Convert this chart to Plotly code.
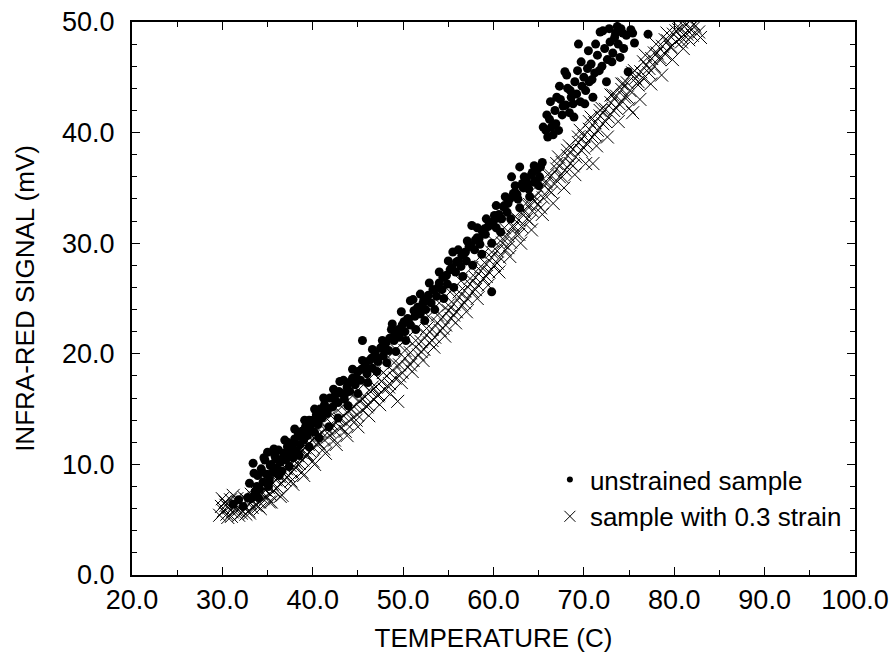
import plotly.graph_objects as go

# ---- data ----
unstrained_temp = [
    31.2, 31.8, 32.3, 32.8, 33.0, 33.2, 33.4, 33.6, 33.9, 34.1, 34.3, 34.5, 34.7, 34.9, 35.0, 35.2,
    35.4, 35.6, 35.8, 36.0, 36.2, 36.4, 36.6, 36.8, 37.0, 37.2, 37.4, 37.6, 37.8, 38.0, 38.2, 38.4,
    38.6, 38.8, 39.0, 39.2, 39.4, 39.6, 39.8, 40.0, 40.2, 40.4, 40.6, 40.8, 41.0, 41.3, 41.6, 41.9,
    42.2, 42.5, 42.8, 43.0, 43.2, 43.5, 43.8, 44.1, 44.4, 44.7, 45.0, 45.3, 45.5, 45.7, 46.0, 46.3,
    46.6, 46.9, 47.2, 47.5, 47.8, 48.1, 48.4, 48.8, 49.0, 49.3, 49.6, 49.9, 50.2, 50.5, 50.8, 51.1,
    51.3, 51.6, 51.9, 52.2, 52.5, 52.8, 53.1, 53.4, 53.7, 54.0, 54.3, 54.6, 54.9, 55.2, 55.5, 55.8,
    56.1, 56.4, 56.7, 57.0, 57.3, 57.6, 57.9, 58.2, 58.5, 58.8, 59.1, 59.4, 59.8, 60.0, 60.3, 60.6,
    60.9, 61.2, 61.5, 61.8, 62.0, 62.4, 62.7, 62.9, 63.3, 63.6, 63.9, 64.2, 64.5, 64.8, 65.1, 65.4,
    65.5, 65.8, 66.0, 66.2, 66.4, 66.6, 66.8, 67.0, 67.2, 67.4, 67.6, 67.9, 68.0, 68.2, 68.4, 68.6,
    68.8, 69.0, 69.2, 69.6, 69.4, 69.8, 70.0, 70.2, 70.4, 70.6, 70.8, 71.0, 71.2, 71.5, 71.8, 72.0,
    72.3, 72.6, 72.9, 73.2, 73.5, 73.8, 74.1, 74.4, 74.7, 74.9, 75.2, 75.4, 75.6, 77.1,
    33.5, 34.0, 34.6, 35.1, 35.7, 36.3, 36.9, 37.4, 38.0, 38.5, 39.1, 39.6, 40.2, 40.7, 41.2, 41.8,
    42.3, 42.8, 43.4, 43.9, 44.4, 45.0, 45.5, 46.1, 46.6, 47.1, 47.7, 48.2, 48.7, 49.2, 49.8, 50.3,
    50.8, 51.4, 51.9, 52.4, 52.9, 53.5, 54.0, 54.5, 55.0, 55.6, 56.1, 56.6, 57.1, 57.7, 58.2, 58.7,
    59.2, 59.8, 60.3, 60.8, 61.3, 61.9, 62.4, 62.9, 63.4, 64.0, 64.5, 65.0,
    65.9, 66.3, 66.9, 67.3, 67.7, 68.1, 68.5, 68.9, 69.3, 69.7, 70.1, 70.5, 70.9, 71.3, 71.7, 72.1,
    72.5, 72.8, 73.1, 73.4, 73.7, 74.0, 74.3,
    33.8, 34.4, 35.3, 35.9, 36.7, 37.2, 37.9, 38.6, 39.3, 40.0, 40.5, 41.1, 41.7, 42.4, 42.9, 43.6,
    44.2, 44.8, 45.4, 45.9, 46.5, 47.0, 47.6, 48.0, 48.5, 49.1, 49.5, 50.1, 50.6, 51.2, 51.7, 52.3,
    52.7, 53.3, 53.9, 54.4, 54.8, 55.4, 55.9, 56.5, 56.9, 57.5, 58.0, 58.4, 59.0, 59.5, 60.1, 60.5,
    61.1, 61.6, 62.2, 62.6, 63.2, 63.7, 64.3, 64.7, 65.2,
]
unstrained_signal = [
    6.4, 6.8, 6.2, 7.0, 8.3, 6.9, 10.1, 7.5, 9.0, 7.8, 9.6, 8.4, 10.4, 9.1, 11.1, 8.6,
    10.0, 9.3, 10.8, 9.7, 11.3, 10.2, 9.4, 11.0, 10.4, 12.0, 10.9, 11.6, 10.6, 12.3, 11.2, 12.8,
    11.8, 13.0, 12.2, 13.4, 12.6, 14.0, 13.1, 13.7, 12.9, 14.5, 13.6, 15.0, 14.2, 15.4, 14.6, 16.0,
    15.2, 16.3, 15.6, 17.5, 16.4, 15.9, 17.0, 16.6, 17.8, 17.2, 18.4, 17.6, 21.2, 18.8, 18.2, 19.4,
    18.7, 20.0, 19.3, 20.5, 19.8, 21.0, 20.3, 22.7, 21.2, 22.0, 21.5, 22.6, 22.0, 23.2, 22.6, 24.9,
    23.4, 24.2, 23.6, 24.6, 24.0, 25.3, 24.6, 25.8, 25.2, 26.4, 25.8, 27.0, 26.3, 27.6, 29.2, 27.4,
    28.4, 27.9, 29.0, 28.4, 29.7, 31.6, 29.4, 30.5, 29.9, 31.0, 30.8, 31.5, 25.6, 32.0, 31.4, 32.6,
    32.2, 33.4, 32.8, 34.0, 36.0, 34.6, 34.0, 36.9, 35.0, 35.8, 34.9, 36.2, 35.5, 36.6, 36.0, 37.3,
    40.5, 40.2, 39.6, 41.2, 40.5, 39.8, 42.0, 43.2, 40.2, 43.0, 41.6, 45.5, 42.5, 44.0, 41.8, 43.2,
    42.6, 44.6, 43.5, 42.8, 48.0, 44.2, 45.0, 43.8, 45.8, 44.6, 46.2, 43.2, 45.4, 47.0, 49.1, 46.0,
    47.6, 46.6, 48.2, 47.2, 49.0, 48.0, 49.4, 47.6, 48.8, 45.5, 49.3, 49.0, 48.1, 48.9,
    9.2, 7.0, 10.6, 8.0, 11.4, 9.0, 12.2, 9.8, 13.2, 10.8, 14.0, 11.6, 15.0, 12.4, 16.0, 13.4,
    16.8, 14.2, 17.6, 15.3, 18.6, 16.4, 19.4, 17.4, 20.4, 18.4, 21.2, 19.2, 22.2, 20.2, 23.8, 21.2,
    24.8, 22.2, 25.4, 23.0, 26.4, 24.0, 27.4, 25.0, 28.4, 26.0, 29.4, 27.0, 30.2, 28.0, 31.4, 29.0,
    32.2, 30.0, 33.4, 31.0, 34.2, 32.2, 35.2, 33.2, 36.0, 34.2, 37.0, 35.2,
    41.6, 42.8, 40.8, 44.2, 42.4, 45.2, 43.8, 41.4, 45.6, 46.4, 42.6, 47.4, 44.8, 48.0, 45.6, 49.2,
    44.6, 49.4, 46.4, 48.6, 49.6, 46.8, 49.0,
    8.0, 9.3, 9.9, 10.5, 10.6, 11.6, 11.9, 12.6, 13.2, 14.0, 13.9, 14.9, 15.0, 15.9, 16.6, 16.4,
    17.5, 17.9, 18.6, 18.8, 19.6, 19.6, 20.6, 20.5, 21.4, 21.9, 22.2, 22.9, 23.1, 23.9, 24.1, 24.9,
    24.8, 25.8, 26.0, 26.9, 27.1, 27.8, 28.3, 28.9, 29.2, 29.8, 30.3, 30.4, 31.3, 31.6, 32.5, 32.3,
    33.3, 33.6, 34.5, 34.4, 35.4, 35.4, 36.4, 35.6, 36.9,
]

strained_temp = [
    29.7, 29.9, 30.1, 30.3, 30.5, 30.7, 30.9, 31.1, 31.3, 31.5, 31.7, 31.9, 32.1, 32.3, 32.5, 32.7,
    32.9, 33.1, 33.3, 33.5, 33.7, 33.9, 34.1, 34.3, 34.5, 34.7, 34.9, 35.1, 35.3, 35.5, 35.7, 35.9,
    36.1, 36.3, 36.5, 36.7, 36.9, 37.1, 37.3, 37.5, 37.7, 37.9, 38.1, 38.3, 38.5, 38.7, 38.9, 39.1,
    39.3, 39.5, 39.7, 39.9, 40.1, 40.4, 40.7, 41.0, 41.3, 41.6, 41.9, 42.2, 42.5, 42.8, 43.1, 43.4,
    43.7, 44.0, 44.3, 44.6, 44.9, 45.2, 45.5, 45.8, 46.1, 46.4, 46.7, 47.0, 47.3, 47.6, 47.9, 48.2,
    48.5, 48.8, 49.1, 49.4, 49.6, 49.9, 50.2, 50.5, 50.8, 51.1, 51.4, 51.7, 52.0, 52.3, 52.6, 52.9,
    53.2, 53.5, 53.8, 54.1, 54.4, 54.7, 55.0, 55.3, 55.6, 55.9, 56.2, 56.5, 56.8, 57.1, 57.4, 57.7,
    58.0, 58.3, 58.6, 58.9, 59.2, 59.5, 59.8, 60.1, 60.4, 60.7, 61.0, 61.3, 61.6, 61.9, 62.2, 62.5,
    62.8, 63.1, 63.4, 63.7, 64.0, 64.3, 64.6, 64.9, 65.2, 65.5, 65.8, 66.1, 66.4, 66.7, 67.0, 67.3,
    67.6, 67.9, 68.2, 68.5, 68.8, 69.1, 69.4, 69.7, 70.0, 70.3, 70.6, 70.9, 71.0, 71.2, 71.5, 71.8,
    72.1, 72.4, 72.7, 73.0, 73.3, 73.6, 73.9, 74.2, 74.5, 74.8, 75.1, 75.4, 75.7, 76.0, 76.3, 76.6,
    76.9, 77.2, 77.5, 77.8, 78.1, 78.4, 78.7, 79.0, 79.3, 79.6, 79.9, 80.2, 80.5, 80.8, 81.1, 81.4,
    81.7, 82.0, 82.3, 82.7,
    30.0, 30.6, 31.2, 31.8, 32.4, 33.0, 33.6, 34.2, 34.8, 35.4, 36.0, 36.6, 37.2, 37.8, 38.4, 39.0,
    39.6, 40.2, 40.8, 41.4, 42.0, 42.6, 43.2, 43.8, 44.4, 45.0, 45.6, 46.2, 46.8, 47.4, 48.0, 48.6,
    49.2, 49.8, 50.4, 51.0, 51.6, 52.2, 52.8, 53.4, 54.0, 54.6, 55.2, 55.8, 56.4, 57.0, 57.6, 58.2,
    58.8, 59.4, 60.0, 60.6, 61.2, 61.8, 62.4, 63.0, 63.6, 64.2, 64.8, 65.4, 66.0, 66.6, 67.2, 67.8,
    68.4, 69.0, 69.6, 70.2, 70.8, 71.4, 72.0, 72.6, 73.2, 73.8, 74.4, 75.0, 75.6, 76.2, 76.8, 77.4,
    78.0, 78.6, 79.2, 79.8, 80.4, 81.0, 81.6, 82.2, 82.9,
    30.4, 31.0, 31.6, 32.6, 33.2, 34.0, 34.6, 35.2, 35.8, 36.4, 37.0, 37.6, 38.2, 38.8, 39.4, 40.0,
    40.6, 41.2, 41.8, 42.4, 43.0, 43.6, 44.2, 44.8, 45.4, 46.0, 46.6, 47.2, 47.8, 48.4, 49.0, 49.6,
    50.2, 50.8, 51.4, 52.0, 52.6, 53.2, 53.8, 54.4, 55.0, 55.6, 56.2, 56.8, 57.4, 58.0, 58.6, 59.2,
    59.8, 60.4, 61.0, 61.6, 62.2, 62.8, 63.4, 64.0, 64.6, 65.2, 65.8, 66.4, 67.0, 67.6, 68.2, 68.8,
    69.4, 70.0, 70.6, 71.2, 71.8, 72.4, 73.0, 73.6, 74.2, 74.8, 75.4, 76.0, 76.6, 77.2, 77.8, 78.4,
    79.0, 79.6, 80.2, 80.8, 81.4,
]
strained_signal = [
    5.4, 6.2, 5.8, 6.6, 5.5, 6.1, 6.8, 5.7, 6.3, 5.9, 6.6, 6.0, 5.6, 6.4, 6.0, 6.8,
    5.8, 6.5, 6.1, 6.9, 6.3, 7.2, 6.6, 7.4, 6.9, 7.7, 7.1, 7.9, 7.3, 8.2, 7.6, 8.6,
    7.9, 8.9, 8.3, 9.2, 8.6, 9.6, 9.0, 9.9, 9.3, 10.4, 9.7, 10.8, 10.1, 11.1, 10.4, 11.5,
    10.8, 11.8, 11.2, 12.2, 11.5, 12.5, 11.9, 12.9, 12.2, 13.3, 12.6, 13.6, 13.0, 14.0, 13.3, 14.4,
    13.7, 14.8, 14.1, 15.2, 14.5, 15.7, 14.9, 16.1, 15.4, 16.6, 15.9, 17.0, 16.3, 17.5, 16.8, 18.0,
    17.3, 18.5, 17.8, 15.7, 19.0, 18.3, 19.6, 18.8, 20.1, 19.4, 20.6, 19.9, 21.1, 20.4, 21.7, 21.0,
    22.2, 21.5, 22.8, 22.1, 23.3, 22.6, 23.9, 23.2, 24.5, 23.8, 25.1, 24.4, 25.7, 25.0, 26.3, 25.6,
    26.9, 26.2, 27.5, 26.8, 28.1, 27.4, 28.7, 28.0, 29.3, 28.7, 30.0, 29.4, 30.7, 30.1, 31.4, 30.8,
    32.1, 31.5, 32.8, 32.2, 33.5, 32.9, 34.2, 33.5, 34.8, 34.1, 35.4, 34.8, 36.1, 35.4, 36.7, 36.0,
    37.3, 36.6, 37.9, 37.2, 38.5, 37.8, 39.1, 38.4, 39.7, 39.0, 40.3, 39.6, 37.2, 40.9, 40.2, 41.5,
    40.8, 42.1, 41.4, 42.7, 42.0, 43.3, 42.6, 43.9, 43.2, 44.5, 43.8, 41.8, 44.9, 44.3, 45.5, 44.9,
    46.1, 45.4, 46.7, 46.0, 47.2, 46.6, 47.8, 47.1, 48.3, 47.7, 48.9, 48.2, 49.3, 48.6, 49.6, 48.9,
    49.4, 48.8, 49.6, 49.1,
    6.9, 5.2, 7.2, 5.4, 7.0, 5.6, 7.6, 6.0, 8.4, 6.6, 9.2, 7.2, 10.4, 8.2, 11.6, 9.0,
    12.6, 10.0, 13.6, 11.0, 14.4, 11.8, 15.2, 12.6, 16.2, 13.4, 17.2, 14.4, 18.2, 15.4, 19.4, 16.4,
    20.4, 17.4, 21.4, 18.4, 22.4, 19.4, 23.4, 20.6, 24.6, 21.6, 25.6, 22.8, 26.6, 23.8, 27.8, 25.0,
    29.0, 26.2, 30.2, 27.4, 31.4, 28.8, 32.4, 30.0, 33.6, 31.2, 35.2, 32.6, 36.2, 33.6, 37.8, 35.0,
    38.8, 36.2, 40.2, 37.2, 41.4, 38.8, 42.2, 39.6, 43.4, 41.0, 44.4, 42.2, 45.6, 43.0, 47.0, 44.4,
    48.0, 45.2, 49.0, 46.6, 49.6, 47.6, 48.4, 49.8, 48.6,
    6.3, 5.3, 6.9, 5.5, 7.3, 6.2, 7.8, 6.6, 8.9, 7.1, 9.7, 8.5, 10.1, 9.3, 10.9, 10.3,
    12.0, 11.4, 13.0, 12.2, 14.1, 13.0, 15.0, 14.0, 16.0, 15.2, 17.0, 16.2, 18.3, 17.0, 19.2, 18.0,
    20.3, 19.0, 21.2, 20.2, 22.3, 21.2, 23.5, 22.3, 24.4, 23.5, 25.6, 24.6, 26.8, 25.8, 27.9, 27.0,
    29.2, 28.2, 30.4, 29.6, 31.6, 30.8, 33.0, 32.0, 33.8, 33.2, 35.6, 34.6, 37.2, 36.0, 38.4, 37.0,
    39.6, 38.6, 41.0, 39.8, 42.0, 41.0, 43.4, 42.2, 44.4, 43.2, 45.4, 44.6, 46.4, 45.8, 47.2, 46.8,
    48.4, 47.8, 49.2, 48.2, 49.8,
]

x_ticks = [20, 30, 40, 50, 60, 70, 80, 90, 100]
y_ticks = [0, 10, 20, 30, 40, 50]

FONT = "Liberation Sans, Arial, Helvetica, sans-serif"
FS = 27

fig = go.Figure()
fig.add_trace(go.Scatter(
    x=strained_temp, y=strained_signal, mode="markers", showlegend=False,
    marker=dict(symbol="x-thin-open", size=13, color="black", line=dict(color="black", width=1)),
))
fig.add_trace(go.Scatter(
    x=unstrained_temp, y=unstrained_signal, mode="markers", showlegend=False,
    marker=dict(symbol="circle", size=9, color="black", line=dict(width=0)),
))
# legend-only entries
fig.add_trace(go.Scatter(
    x=[None], y=[None], mode="markers", name="unstrained sample",
    marker=dict(symbol="circle", size=6, color="black"),
))
fig.add_trace(go.Scatter(
    x=[None], y=[None], mode="markers", name="sample with 0.3 strain",
    marker=dict(symbol="x-thin-open", size=11, color="black", line=dict(color="black", width=1)),
))

axis_common = dict(
    showgrid=False, zeroline=False, showline=True, linecolor="black", linewidth=2,
    mirror="ticks", ticks="inside", tickcolor="black", tickwidth=1.2, ticklen=8,
    tickfont=dict(family=FONT, size=FS, color="black"), tickformat=".1f",
    automargin=False, ticklabeloverflow="allow",
)
fig.update_xaxes(
    range=[20, 100], tickvals=x_ticks,
    minor=dict(dtick=5, ticks="inside", ticklen=5, tickcolor="black", tickwidth=1),
    title=dict(text="TEMPERATURE (C)", font=dict(family=FONT, size=FS - 1, color="black"), standoff=14),
    ticklabelstandoff=0,
    **axis_common,
)
fig.update_yaxes(
    range=[0, 50], tickvals=y_ticks,
    minor=dict(dtick=2, ticks="inside", ticklen=5, tickcolor="black", tickwidth=1),
    title=dict(text="INFRA-RED SIGNAL (mV)", font=dict(family=FONT, size=FS - 1, color="black"), standoff=20),
    ticklabelstandoff=10,
    **axis_common,
)
fig.update_layout(
    width=889, height=653,
    margin=dict(l=132, r=34, t=22, b=78),
    paper_bgcolor="white", plot_bgcolor="white",
    font=dict(family=FONT, size=FS, color="black"),
    legend=dict(x=0.578, y=0.215, xanchor="left", yanchor="top",
                bgcolor="rgba(0,0,0,0)", borderwidth=0,
                font=dict(family=FONT, size=FS - 1, color="black")),
)
fig.write_html("out.html", config={"displayModeBar": False},
               post_script="document.body.style.margin='0';")
